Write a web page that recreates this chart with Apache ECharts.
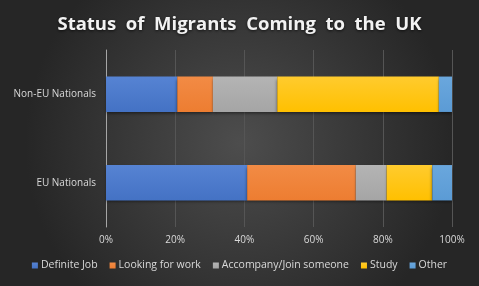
<!DOCTYPE html>
<html><head><meta charset="utf-8">
<script src="https://cdn.jsdelivr.net/npm/echarts@6/dist/echarts.min.js"></script>
<style>html,body{margin:0;padding:0;background:#333;}#c{width:479px;height:286px;}</style>
</head><body><div id="c"></div>
<script>
const categories = ['EU Nationals', 'Non-EU Nationals'];
const seriesNames = ['Definite Job', 'Looking for work', 'Accompany/Join someone', 'Study', 'Other'];
const definiteJob = [40.8, 20.6];
const lookingForWork = [31.4, 10.3];
const accompany = [8.9, 18.6];
const study = [13.2, 46.7];
const other = [5.7, 3.8];
const tickLabels = ['0%', '20%', '40%', '60%', '80%', '100%'];

const values = [definiteJob, lookingForWork, accompany, study, other];
const colors = ['#4472C4', '#ED7D31', '#A5A5A5', '#FFC000', '#5B9BD5'];
const tops = ['#5683d3', '#f28b45', '#b4b4b4', '#ffcb2e', '#6aa7dd'];

const chart = echarts.init(document.getElementById('c'), null, {renderer: 'canvas'});
chart.setOption({
  animation: false,
  backgroundColor: {
    type: 'radial', x: 0.5, y: 0.5, r: 0.75,
    colorStops: [{offset: 0, color: '#4d4d4d'}, {offset: 1, color: '#262626'}]
  },
  title: {
    text: 'Status  of  Migrants  Coming  to  the  UK',
    left: 'center', top: 10,
    textStyle: {
      color: '#f2f2f2', fontFamily: 'Open Sans', fontWeight: 'bold', fontSize: 18.5,
      textShadowColor: 'rgba(0,0,0,0.7)', textShadowBlur: 3, textShadowOffsetY: 1
    }
  },
  legend: {
    bottom: 10, left: 'center', itemWidth: 6, itemHeight: 6, itemGap: 12,
    icon: 'rect',
    textStyle: {color: '#d9d9d9', fontSize: 10.5, fontFamily: 'Open Sans', padding: [0, 0, 0, -2]},
    data: seriesNames
  },
  grid: {left: 106, right: 27, top: 50, bottom: 59},
  xAxis: {
    type: 'value', min: 0, max: 100, interval: 20,
    axisLabel: {color: '#d9d9d9', fontSize: 10, fontFamily: 'Open Sans', margin: 8,
      formatter: (v) => tickLabels[Math.round(v / 20)]},
    splitLine: {lineStyle: {color: '#555555', width: 1}},
    axisLine: {show: false}, axisTick: {show: false}
  },
  yAxis: {
    type: 'category', data: categories,
    axisLabel: {color: '#d9d9d9', fontSize: 10, fontFamily: 'Open Sans', margin: 10},
    axisLine: {show: true, lineStyle: {color: '#a6a6a6', width: 1}},
    axisTick: {show: false}
  },
  series: seriesNames.map((n, i) => ({
    name: n, type: 'bar', stack: 'all', barWidth: '40%', data: values[i],
    itemStyle: {
      color: {type: 'linear', x: 0, y: 0, x2: 0, y2: 1,
        colorStops: [{offset: 0, color: tops[i]}, {offset: 1, color: colors[i]}]},
      shadowColor: 'rgba(0,0,0,0.5)', shadowBlur: 3, shadowOffsetY: 2
    }
  }))
});
</script></body></html>
